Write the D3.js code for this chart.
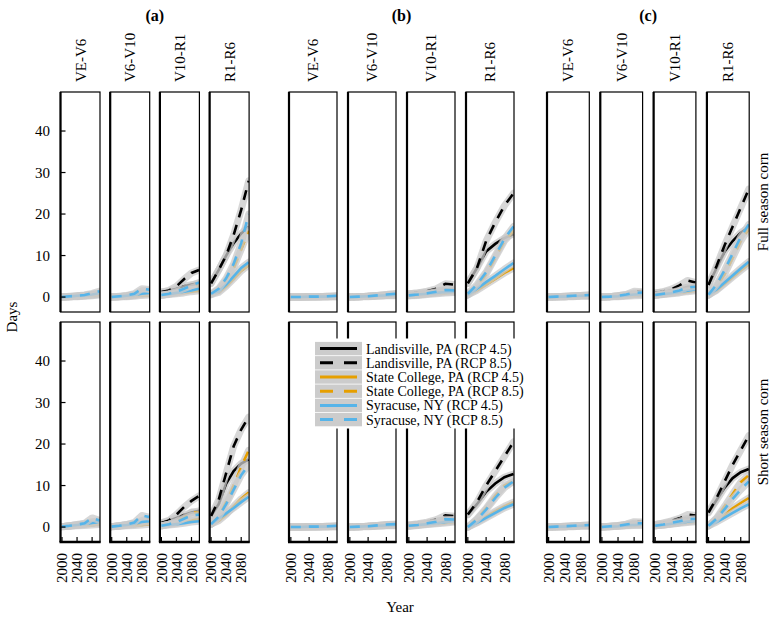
<!DOCTYPE html>
<html>
<head>
<meta charset="utf-8">
<script src="https://cdn.jsdelivr.net/npm/d3@7"></script>
<style>
  body { margin: 0; background: #fff; }
  svg { display: block; font-family: "Liberation Serif", "Times New Roman", serif; }
</style>
</head>
<body>
<svg id="chart" width="774" height="623"></svg>
<script>
// ---------- DATA ----------
const years = [2000, 2020, 2040, 2060, 2080, 2100];
const groupLabels = ["(a)", "(b)", "(c)"];
const stages = ["VE-V6", "V6-V10", "V10-R1", "R1-R6"];
const seasons = ["Full season corn", "Short season corn"];
const seriesNames = [
  "Landisville, PA (RCP 4.5)", "Landisville, PA (RCP 8.5)",
  "State College, PA (RCP 4.5)", "State College, PA (RCP 8.5)",
  "Syracuse, NY (RCP 4.5)", "Syracuse, NY (RCP 8.5)"
];
const yTicks = [0, 10, 20, 30, 40];
const xTicks = [2000, 2040, 2080];

// each array: rows = series in seriesNames order, columns = years
// (a) full season
const a_full_VEV6 = [
  [0, 0.1, 0.2, 0.3, 0.5, 0.7], [0, 0.1, 0.2, 0.4, 0.7, 1.0],
  [0, 0.1, 0.1, 0.2, 0.3, 0.5], [0, 0.1, 0.2, 0.3, 0.5, 0.8],
  [0, 0.1, 0.3, 0.4, 0.6, 0.9], [0, 0.2, 0.3, 0.5, 0.9, 1.4]];
const a_full_V6V10 = [
  [0, 0.1, 0.2, 0.4, 0.6, 0.8], [0, 0.1, 0.3, 0.6, 1.5, 1.6],
  [0, 0.1, 0.1, 0.2, 0.4, 0.5], [0, 0.1, 0.2, 0.4, 1.0, 1.0],
  [0, 0.1, 0.3, 0.5, 0.8, 1.0], [0, 0.2, 0.4, 0.8, 2.0, 1.8]];
const a_full_V10R1 = [
  [1.2, 1.5, 2.0, 2.6, 3.0, 3.3], [1.2, 1.6, 2.6, 4.3, 5.8, 6.5],
  [0.4, 0.6, 0.8, 1.0, 1.3, 1.5], [0.4, 0.7, 1.0, 1.5, 2.2, 2.8],
  [0.5, 0.7, 1.0, 1.3, 1.6, 2.0], [0.5, 0.8, 1.3, 2.0, 2.8, 3.5]];
const a_full_R1R6 = [
  [3.3, 6.5, 10, 13, 15.3, 17], [3.3, 6.5, 10, 15, 21, 28],
  [0.6, 1.1, 2.6, 4.4, 6.3, 7.7], [0.6, 1.8, 4, 7, 11.5, 16],
  [0.8, 1.4, 3.0, 5.0, 7.0, 8.4], [0.8, 2, 4.5, 8, 13, 20]];
// (a) short season
const a_short_VEV6 = [
  [0.1, 0.3, 0.5, 0.7, 0.9, 1.0], [0.1, 0.3, 0.5, 0.8, 1.3, 1.5],
  [0.1, 0.2, 0.3, 0.4, 0.5, 0.6], [0.1, 0.2, 0.4, 0.6, 0.9, 1.0],
  [0.1, 0.3, 0.5, 0.7, 1.0, 1.2], [0.1, 0.3, 0.6, 0.9, 2.2, 1.6]];
const a_short_V6V10 = [
  [0.1, 0.3, 0.5, 0.7, 1.0, 1.2], [0.1, 0.3, 0.6, 0.9, 1.6, 2.0],
  [0.1, 0.2, 0.3, 0.4, 0.5, 0.7], [0.1, 0.2, 0.4, 0.6, 1.0, 1.2],
  [0.1, 0.3, 0.5, 0.8, 1.2, 1.4], [0.1, 0.3, 0.6, 1.1, 2.8, 2.4]];
const a_short_V10R1 = [
  [1.0, 1.5, 2.2, 2.9, 3.5, 3.9], [1.0, 1.6, 3.0, 4.8, 6.3, 7.5],
  [0.3, 0.6, 0.9, 1.3, 1.6, 2.0], [0.3, 0.7, 1.3, 2.2, 3.6, 3.5],
  [0.3, 0.5, 0.7, 0.9, 1.2, 1.4], [0.3, 0.7, 1.2, 2.0, 2.8, 3.0]];
const a_short_R1R6 = [
  [2.7, 5.5, 10.5, 13.5, 15.3, 16.3], [2.7, 6.5, 13, 19.5, 23.5, 26.5],
  [0.7, 1.5, 3, 5, 6.8, 8.3], [0.7, 2.5, 6, 10, 14.5, 18.5],
  [0.7, 2, 3.3, 4.6, 6, 7.3], [0.7, 2.5, 5.5, 9, 12.5, 15]];
// (b) full season
const b_full_VEV6 = [
  [0, 0, 0, 0.1, 0.1, 0.1], [0, 0, 0.1, 0.1, 0.2, 0.2],
  [0, 0, 0, 0, 0.1, 0.1], [0, 0, 0, 0.1, 0.1, 0.2],
  [0, 0, 0.1, 0.1, 0.1, 0.2], [0, 0, 0.1, 0.1, 0.2, 0.3]];
const b_full_V6V10 = [
  [0, 0.1, 0.2, 0.3, 0.4, 0.5], [0, 0.1, 0.2, 0.4, 0.6, 0.8],
  [0, 0.1, 0.1, 0.2, 0.3, 0.3], [0, 0.1, 0.2, 0.3, 0.4, 0.5],
  [0, 0.1, 0.2, 0.3, 0.4, 0.5], [0, 0.1, 0.2, 0.4, 0.6, 0.8]];
const b_full_V10R1 = [
  [0.8, 1.0, 1.2, 1.5, 1.8, 2.0], [0.8, 1.0, 1.4, 2.0, 3.2, 3.0],
  [0.3, 0.4, 0.6, 0.8, 1.0, 1.1], [0.3, 0.5, 0.8, 1.1, 1.5, 1.6],
  [0.4, 0.6, 0.8, 1.0, 1.2, 1.3], [0.4, 0.6, 0.9, 1.3, 1.7, 1.6]];
const b_full_R1R6 = [
  [3.3, 7, 11, 12.8, 14.2, 15.2], [3.3, 7, 13.5, 18, 22, 25],
  [0.5, 1.6, 3, 4.4, 5.8, 7.0], [0.5, 2.5, 5.5, 9.5, 13.5, 16],
  [0.5, 2, 3.6, 5.1, 6.7, 8.2], [0.8, 3, 6, 10, 14, 17]];
// (b) short season
const b_short_VEV6 = [
  [0, 0, 0, 0.1, 0.1, 0.1], [0, 0, 0.1, 0.1, 0.2, 0.2],
  [0, 0, 0, 0, 0.1, 0.1], [0, 0, 0, 0.1, 0.1, 0.2],
  [0, 0, 0.1, 0.1, 0.1, 0.2], [0, 0, 0.1, 0.1, 0.2, 0.3]];
const b_short_V6V10 = [
  [0, 0.1, 0.2, 0.3, 0.4, 0.5], [0, 0.1, 0.2, 0.4, 0.6, 0.7],
  [0, 0.1, 0.1, 0.2, 0.3, 0.3], [0, 0.1, 0.2, 0.3, 0.4, 0.5],
  [0, 0.1, 0.2, 0.3, 0.4, 0.5], [0, 0.1, 0.2, 0.4, 0.6, 0.7]];
const b_short_V10R1 = [
  [0.5, 0.7, 1.0, 1.4, 1.8, 2.1], [0.5, 0.8, 1.2, 1.8, 2.8, 2.6],
  [0.2, 0.4, 0.6, 0.8, 1.0, 1.2], [0.2, 0.5, 0.8, 1.1, 1.6, 1.7],
  [0.3, 0.5, 0.7, 0.9, 1.2, 1.4], [0.3, 0.5, 0.9, 1.3, 1.9, 1.8]];
const b_short_R1R6 = [
  [3, 5.5, 8.5, 10.5, 12, 12.8], [3, 6, 10, 13.5, 17, 20.5],
  [0, 1.2, 2.5, 3.8, 5, 6], [0, 2, 4.5, 7.5, 10, 11],
  [0, 1, 2.2, 3.4, 4.6, 5.5], [0, 1.8, 4.2, 7, 9.5, 11]];
// (c) full season
const c_full_VEV6 = [
  [0, 0.1, 0.1, 0.2, 0.3, 0.3], [0, 0.1, 0.2, 0.3, 0.4, 0.5],
  [0, 0, 0.1, 0.1, 0.2, 0.2], [0, 0.1, 0.1, 0.2, 0.3, 0.3],
  [0, 0.1, 0.1, 0.2, 0.3, 0.4], [0, 0.1, 0.2, 0.3, 0.4, 0.5]];
const c_full_V6V10 = [
  [0, 0.1, 0.3, 0.4, 0.6, 0.7], [0, 0.1, 0.3, 0.6, 1.4, 1.3],
  [0, 0.1, 0.1, 0.2, 0.3, 0.4], [0, 0.1, 0.2, 0.4, 0.7, 0.8],
  [0, 0.1, 0.2, 0.4, 0.6, 0.7], [0, 0.1, 0.3, 0.6, 1.0, 1.1]];
const c_full_V10R1 = [
  [1.0, 1.2, 1.6, 2.0, 2.4, 2.7], [1.0, 1.3, 1.9, 2.8, 4.0, 3.5],
  [0.4, 0.6, 0.8, 1.0, 1.3, 1.5], [0.4, 0.7, 1.0, 1.4, 2.0, 2.2],
  [0.5, 0.7, 0.9, 1.2, 1.5, 1.8], [0.5, 0.8, 1.1, 1.6, 2.3, 2.5]];
const c_full_R1R6 = [
  [2.9, 7, 11, 13.5, 15.5, 16.8], [2.9, 7.5, 12.5, 17, 21.5, 26],
  [0.5, 1.6, 3.2, 4.8, 6.4, 7.9], [0.5, 2.5, 5.5, 9.5, 13.5, 16.5],
  [0.5, 1.8, 3.5, 5.2, 6.9, 8.5], [0.6, 3, 6.5, 10.5, 14.5, 17.5]];
// (c) short season
const c_short_VEV6 = [
  [0, 0.1, 0.1, 0.2, 0.3, 0.3], [0, 0.1, 0.2, 0.3, 0.4, 0.5],
  [0, 0, 0.1, 0.1, 0.2, 0.2], [0, 0.1, 0.1, 0.2, 0.3, 0.3],
  [0, 0.1, 0.1, 0.2, 0.3, 0.4], [0, 0.1, 0.2, 0.3, 0.4, 0.5]];
const c_short_V6V10 = [
  [0.1, 0.2, 0.3, 0.5, 0.7, 0.8], [0.1, 0.2, 0.4, 0.7, 1.3, 1.2],
  [0, 0.1, 0.2, 0.3, 0.4, 0.4], [0, 0.1, 0.3, 0.4, 0.7, 0.7],
  [0, 0.1, 0.2, 0.4, 0.5, 0.6], [0, 0.2, 0.3, 0.6, 0.9, 0.9]];
const c_short_V10R1 = [
  [0.6, 0.9, 1.3, 1.7, 2.1, 2.4], [0.6, 1.0, 1.5, 2.1, 3.0, 2.8],
  [0.3, 0.5, 0.7, 0.9, 1.1, 1.3], [0.3, 0.5, 0.8, 1.1, 1.6, 1.7],
  [0.3, 0.5, 0.8, 1.0, 1.3, 1.5], [0.3, 0.6, 1.0, 1.4, 1.9, 2.0]];
const c_short_R1R6 = [
  [3.5, 6.5, 9.5, 11.8, 13.2, 14], [3.5, 7, 11, 15, 18.5, 22],
  [0.3, 1.6, 3, 4.5, 5.8, 7], [0.3, 2.2, 5, 8, 10.8, 12.5],
  [0.3, 1.2, 2.3, 3.4, 4.5, 5.5], [0.3, 2, 4.3, 6.8, 9, 11]];

const tableData = [
  [[a_full_VEV6, a_full_V6V10, a_full_V10R1, a_full_R1R6],
   [a_short_VEV6, a_short_V6V10, a_short_V10R1, a_short_R1R6]],
  [[b_full_VEV6, b_full_V6V10, b_full_V10R1, b_full_R1R6],
   [b_short_VEV6, b_short_V6V10, b_short_V10R1, b_short_R1R6]],
  [[c_full_VEV6, c_full_V6V10, c_full_V10R1, c_full_R1R6],
   [c_short_VEV6, c_short_V6V10, c_short_V10R1, c_short_R1R6]]
];

// ---------- STYLE / LAYOUT ----------
const seriesColors = ["#000000", "#000000", "#E69F00", "#E69F00", "#56B4E9", "#56B4E9"];
const seriesDashed = [false, true, false, true, false, true];
const groupLeft = [60.5, 289, 547];
const panelW = [39.5, 48, 42.3];
const panelGap = [10.2, 11, 11];
const rowTop = [92, 322];
const rowH = 220;

const svg = d3.select("#chart");

function yScaleFor(r) {
  return d3.scaleLinear().domain([-3.6, 49.4]).range([rowTop[r] + rowH, rowTop[r]]);
}

let clipId = 0;
groupLabels.forEach((gl, g) => {
  const gx0 = groupLeft[g];
  const gx1 = groupLeft[g] + 4 * panelW[g] + 3 * panelGap[g];
  svg.append("text")
    .attr("x", (gx0 + gx1) / 2).attr("y", 21)
    .attr("text-anchor", "middle")
    .attr("font-weight", "bold").attr("font-size", 16)
    .text(gl);

  stages.forEach((st, s) => {
    const px = groupLeft[g] + s * (panelW[g] + panelGap[g]);
    const x = d3.scaleLinear().domain([1996, 2101]).range([px, px + panelW[g]]);
    // strip label
    svg.append("text")
      .attr("transform", `translate(${px + panelW[g] / 2},82) rotate(-90)`)
      .attr("dy", "0.35em")
      .attr("font-size", 15)
      .text(st);

    seasons.forEach((se, r) => {
      const y = yScaleFor(r);
      const id = "clip" + (clipId++);
      svg.append("clipPath").attr("id", id)
        .append("rect")
        .attr("x", px).attr("y", rowTop[r])
        .attr("width", panelW[g]).attr("height", rowH);

      const pg = svg.append("g").attr("clip-path", `url(#${id})`);
      const vals = tableData[g][r][s];
      const line = d3.line().x((d, i) => x(years[i])).y(d => y(d));
      vals.forEach((ser, k) => {
        pg.append("path").datum(ser)
          .attr("d", line)
          .attr("fill", "none")
          .attr("stroke", "#c9c9c9")
          .attr("stroke-opacity", 0.75)
          .attr("stroke-width", 7)
          .attr("stroke-linejoin", "round")
          .attr("stroke-linecap", "round");
        pg.append("path").datum(ser)
          .attr("d", line)
          .attr("fill", "none")
          .attr("stroke", seriesColors[k])
          .attr("stroke-width", 2.6)
          .attr("stroke-dasharray", seriesDashed[k] ? "10,8" : null);
      });

      // panel frame
      svg.append("rect")
        .attr("x", px).attr("y", rowTop[r])
        .attr("width", panelW[g]).attr("height", rowH)
        .attr("fill", "none").attr("stroke", "#000").attr("stroke-width", 1.2);
      svg.append("line")
        .attr("x1", px).attr("x2", px)
        .attr("y1", rowTop[r]).attr("y2", rowTop[r] + rowH)
        .attr("stroke", "#000").attr("stroke-width", 2.2);

      if (r === 1) {
        svg.append("line")
          .attr("x1", px - 1).attr("x2", px + panelW[g] + 0.6)
          .attr("y1", rowTop[r] + rowH).attr("y2", rowTop[r] + rowH)
          .attr("stroke", "#000").attr("stroke-width", 2.4);
        xTicks.forEach(t => {
          svg.append("line")
            .attr("x1", x(t)).attr("x2", x(t))
            .attr("y1", rowTop[r] + rowH).attr("y2", rowTop[r] + rowH - 5)
            .attr("stroke", "#000").attr("stroke-width", 1.2);
          svg.append("text")
            .attr("transform", `translate(${x(t)},553) rotate(-90)`)
            .attr("text-anchor", "end").attr("dy", "0.35em")
            .attr("font-size", 15)
            .text(t);
        });
      }

      if (g === 0 && s === 0) {
        yTicks.forEach(t => {
          svg.append("line")
            .attr("x1", px).attr("x2", px + 5)
            .attr("y1", y(t)).attr("y2", y(t))
            .attr("stroke", "#000").attr("stroke-width", 1.2);
          svg.append("text")
            .attr("x", 50).attr("y", y(t)).attr("dy", "0.35em")
            .attr("text-anchor", "end").attr("font-size", 15)
            .text(t);
        });
      }
    });
  });
});

// right strip labels
seasons.forEach((se, r) => {
  svg.append("text")
    .attr("transform", `translate(763,${rowTop[r] + rowH / 2}) rotate(-90)`)
    .attr("text-anchor", "middle").attr("dy", "0.35em")
    .attr("font-size", 15)
    .text(se);
});

// axis titles
svg.append("text")
  .attr("transform", `translate(12,317) rotate(-90)`)
  .attr("text-anchor", "middle").attr("dy", "0.35em")
  .attr("font-size", 15)
  .text("Days");
svg.append("text")
  .attr("x", 400).attr("y", 612)
  .attr("text-anchor", "middle")
  .attr("font-size", 15)
  .text("Year");

// legend
const lg = svg.append("g");
const lgTop = 341.5, lgRow = 14.2;
lg.append("rect").attr("x", 312).attr("y", 338.5)
  .attr("width", 212).attr("height", 90).attr("fill", "#fff");
seriesNames.forEach((nm, k) => {
  const cy = lgTop + k * lgRow + lgRow / 2;
  lg.append("rect")
    .attr("x", 315).attr("y", lgTop + k * lgRow + 0.4)
    .attr("width", 47).attr("height", lgRow - 0.8)
    .attr("fill", "#cccccc");
  lg.append("line")
    .attr("x1", 320).attr("x2", 357).attr("y1", cy).attr("y2", cy)
    .attr("stroke", seriesColors[k]).attr("stroke-width", 3)
    .attr("stroke-dasharray", seriesDashed[k] ? "13,11" : null);
  lg.append("text")
    .attr("x", 366).attr("y", cy).attr("dy", "0.35em")
    .attr("font-size", 14)
    .text(nm);
});
</script>
</body>
</html>
